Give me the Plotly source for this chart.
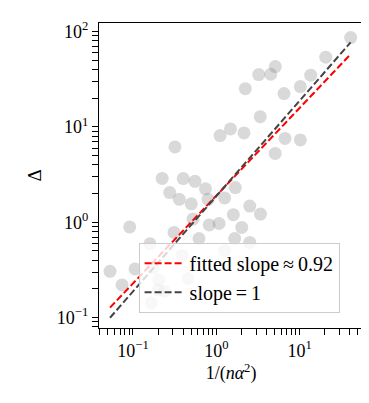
import plotly.graph_objects as go

# inverse sample size scaled by alpha^2, and the measured gap
inv_n_alpha2 = [41.0, 20.6, 5.11, 3.23, 4.50, 13.6, 2.23, 10.2, 6.50, 3.37,
                1.11, 1.48, 2.15, 6.68, 10.2, 0.319, 5.09, 0.224, 0.401, 0.555,
                0.276, 0.742, 1.69, 0.360, 0.501, 0.795, 1.26, 2.52, 3.39, 1.60,
                0.525, 0.822, 1.08, 2.02, 0.0913, 0.311, 1.66, 0.620, 0.160, 2.52,
                1.26, 0.388, 0.0530, 0.106, 0.174, 0.0738, 0.205, 0.200, 0.166, 0.457,
                0.240]
delta = [86.5, 53.9, 42.9, 35.4, 35.7, 34.9, 25.2, 26.5, 22.4, 12.8,
         8.11, 9.53, 8.65, 7.57, 7.31, 6.17, 5.27, 2.88, 2.87, 2.69,
         2.05, 2.24, 2.31, 1.74, 1.56, 1.74, 1.80, 1.48, 1.22, 1.20,
         1.08, 0.937, 0.971, 0.882, 0.893, 0.782, 0.676, 0.676, 0.595, 0.614,
         0.504, 0.449, 0.306, 0.324, 0.331, 0.220, 0.248, 0.195, 0.142, 0.257,
         0.189]

fit_slope = 0.92
fit_coef = 1.90
ref_coef = 1.88

x_line = [min(inv_n_alpha2), max(inv_n_alpha2)]
y_fit = [fit_coef * v ** fit_slope for v in x_line]
y_ref = [ref_coef * v for v in x_line]


def log_ticks(lo, hi):
    # major ticks get 10^k labels, the 2..9 ticks in between stay unlabeled
    vals, text = [], []
    for e in range(lo, hi + 1):
        for m in range(1, 10):
            vals.append(m * 10.0 ** e)
            if m == 1:
                text.append("10<sup>%s</sup>" % str(e).replace("-", "\u2212"))
            else:
                text.append("")
    return vals, text


x_vals, x_text = log_ticks(-2, 1)
y_vals, y_text = log_ticks(-2, 2)

serif = "Liberation Serif"

fig = go.Figure()
fig.add_trace(go.Scatter(x=inv_n_alpha2, y=delta, mode="markers",
                         marker=dict(size=13, color="rgba(128,128,128,0.3)"),
                         showlegend=False, hoverinfo="skip"))
fig.add_trace(go.Scatter(x=x_line, y=y_fit, mode="lines",
                         line=dict(color="red", width=2, dash="7px,3px"),
                         name="fitted slope\u2009\u2248\u20090.92"))
fig.add_trace(go.Scatter(x=x_line, y=y_ref, mode="lines",
                         line=dict(color="#444444", width=2, dash="7px,3px"),
                         name="slope\u2009=\u20091"))

axis_common = dict(type="log", showgrid=False, tickmode="array",
                   zeroline=False, showline=True, linecolor="black", linewidth=1.3,
                   mirror=True, ticks="outside", ticklen=6, tickwidth=1.3, tickcolor="black",
                   tickfont=dict(family=serif, size=18, color="black"))

fig.update_layout(
    width=369, height=403,
    margin=dict(l=91, r=14, t=15, b=83),
    plot_bgcolor="white", paper_bgcolor="white",
    font=dict(family=serif, size=18, color="black"),
    xaxis=dict(range=[-1.408, 1.761], tickvals=x_vals, ticktext=x_text,
               title=dict(text="1/(<i>n\u03b1</i><sup>2</sup>)",
                          font=dict(family=serif, size=18, color="black"), standoff=4),
               **axis_common),
    yaxis=dict(range=[-1.109, 2.09], tickvals=y_vals, ticktext=y_text,
               title=dict(text="\u0394", font=dict(family=serif, size=19, color="black"),
                          standoff=10),
               **axis_common),
    legend=dict(x=0.15, y=0.05, xanchor="left", yanchor="bottom", itemwidth=40,
                bgcolor="rgba(255,255,255,0.8)", bordercolor="#cccccc", borderwidth=1,
                font=dict(family=serif, size=20, color="black")),
)

fig.write_html("out.html")
